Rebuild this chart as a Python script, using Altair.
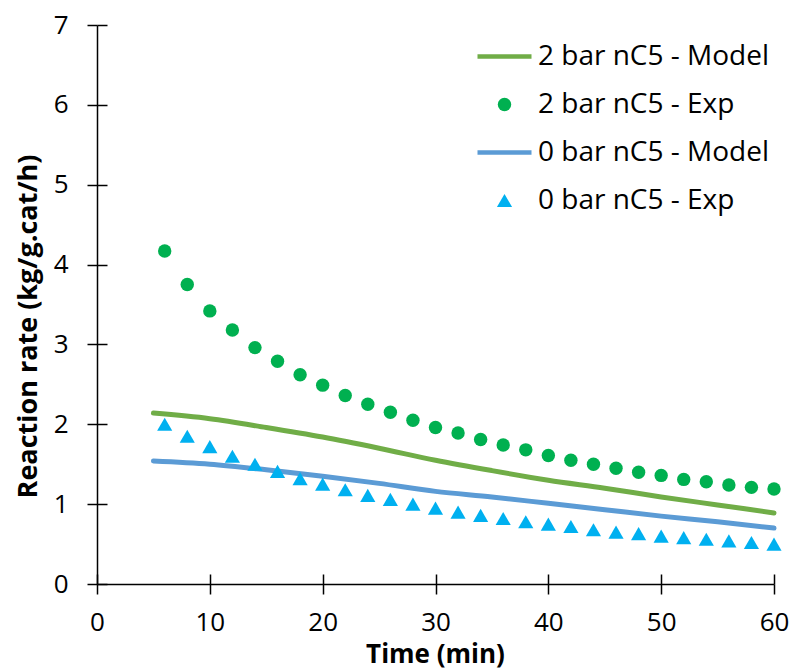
import altair as alt
import pandas as pd

# ---- data ----
time_exp = [6, 8, 10, 12, 14, 16, 18, 20, 22, 24, 26, 28, 30, 32, 34, 36, 38, 40,
            42, 44, 46, 48, 50, 52, 54, 56, 58, 60]
exp_2bar = [4.17, 3.75, 3.42, 3.18, 2.96, 2.79, 2.62, 2.49, 2.36, 2.25, 2.15, 2.05,
            1.96, 1.89, 1.81, 1.74, 1.68, 1.61, 1.55, 1.50, 1.45, 1.40, 1.36, 1.31,
            1.28, 1.24, 1.21, 1.19]
exp_0bar = [2.00, 1.85, 1.72, 1.60, 1.50, 1.41, 1.32, 1.25, 1.18, 1.11, 1.06, 1.00,
            0.95, 0.90, 0.86, 0.82, 0.78, 0.75, 0.72, 0.68, 0.65, 0.63, 0.60, 0.58,
            0.56, 0.54, 0.52, 0.50]

time_model = [5, 10, 15, 20, 25, 30, 35, 40, 45, 50, 55, 60]
model_2bar = [2.14, 2.07, 1.96, 1.84, 1.70, 1.55, 1.42, 1.30, 1.20, 1.09, 0.99, 0.89]
model_0bar = [1.54, 1.50, 1.43, 1.35, 1.26, 1.16, 1.09, 1.01, 0.93, 0.85, 0.78, 0.70]

series_order = ["2 bar nC5 - Model", "2 bar nC5 - Exp",
                "0 bar nC5 - Model", "0 bar nC5 - Exp"]
series_colors = ["#70AD47", "#00B050", "#5B9BD5", "#00B0F0"]
series_shapes = ["stroke", "circle", "stroke", "triangle-up"]
series_sizes = [2916, 180, 2916, 230]
series_strokes = [4.5, 0, 4.5, 0]

x_ticks = [0, 10, 20, 30, 40, 50, 60]
y_ticks = [0, 1, 2, 3, 4, 5, 6, 7]

model_df = pd.concat([
    pd.DataFrame({"time": time_model, "rate": model_2bar, "series": series_order[0]}),
    pd.DataFrame({"time": time_model, "rate": model_0bar, "series": series_order[2]}),
])
exp_df = pd.concat([
    pd.DataFrame({"time": time_exp, "rate": exp_2bar, "series": series_order[1]}),
    pd.DataFrame({"time": time_exp, "rate": exp_0bar, "series": series_order[3]}),
])

FONT = "Open Sans"
W, H = 677, 559

legend = alt.Legend(
    title=None, orient="none", legendX=378, legendY=10,
    labelFont=FONT, labelFontSize=28, labelColor="#000000", labelLimit=0,
    labelOffset=4, rowPadding=5, padding=0, symbolOpacity=1, clipHeight=43,
)

color = alt.Color("series:N", scale=alt.Scale(domain=series_order, range=series_colors),
                  legend=legend)

x_enc = alt.X("time:Q", scale=alt.Scale(domain=[0, 60], nice=False),
              axis=alt.Axis(values=x_ticks, title="Time (min)", titleX=338, titleY=70,
                            titleBaseline="middle", titleAlign="center"))
y_enc = alt.Y("rate:Q", scale=alt.Scale(domain=[0, 7], nice=False),
              axis=alt.Axis(values=y_ticks, title="Reaction rate (kg/g.cat/h)",
                            titleX=-69, titleY=301, titleBaseline="middle",
                            titleAlign="center", titleAngle=270, titleFontSize=27))

lines = alt.Chart(model_df).mark_line(strokeWidth=5, strokeCap="round",
                                      interpolate="monotone").encode(
    x=x_enc, y=y_enc, color=color)

points = alt.Chart(exp_df).mark_point(filled=True, opacity=1).encode(
    x=x_enc, y=y_enc, color=color,
    shape=alt.Shape("series:N", scale=alt.Scale(domain=series_order, range=series_shapes),
                    legend=legend),
    size=alt.Size("series:N", scale=alt.Scale(type="ordinal", domain=series_order,
                                              range=series_sizes), legend=legend),
    strokeWidth=alt.StrokeWidth("series:N", scale=alt.Scale(type="ordinal",
                                domain=series_order, range=series_strokes), legend=legend),
)

chart = alt.layer(lines, points).properties(
    width=W, height=H,
    autosize=alt.AutoSizeParams(type="none"),
    padding={"left": 97, "top": 25, "right": 18, "bottom": 86},
).configure_view(stroke=None).configure_axis(
    domainColor="#000000", domainWidth=1.5,
    tickColor="#000000", tickWidth=1.5, tickSize=10,
    grid=True, gridColor="#000000", gridWidth=1.5, gridOpacity=1,
    labelFont=FONT, labelFontSize=26, labelColor="#000000", labelFlush=False,
    labelOverlap=False,
    titleFont=FONT, titleFontSize=26, titleFontWeight="bold", titleColor="#000000",
).configure_axisX(
    labelPadding=15, gridDash=[0, H - 10, 10, 3000],
).configure_axisY(
    labelPadding=19, gridDash=[10, 3000],
)

chart.save("out.html", embed_options={"renderer": "svg", "actions": False})
